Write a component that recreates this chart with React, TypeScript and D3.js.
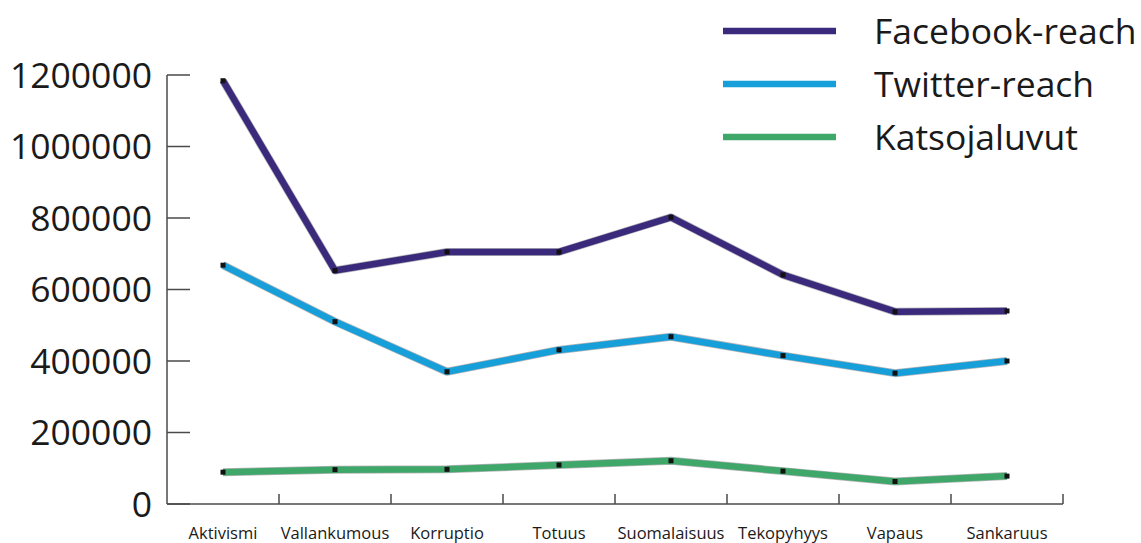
import * as d3 from 'd3';

// categories on the x axis
const categories = [
  'Aktivismi',
  'Vallankumous',
  'Korruptio',
  'Totuus',
  'Suomalaisuus',
  'Tekopyhyys',
  'Vapaus',
  'Sankaruus'
];

// series values
const facebookReach = [1184000, 653000, 705000, 705000, 802000, 641000, 538000, 540000];
const twitterReach = [668000, 510000, 370000, 431000, 468000, 415000, 366000, 400000];
const katsojaluvut = [89000, 96000, 97000, 109000, 121000, 92000, 63000, 78000];

const yTicks = [0, 200000, 400000, 600000, 800000, 1000000, 1200000];

const seriesNames = ['Facebook-reach', 'Twitter-reach', 'Katsojaluvut'];
const seriesColors = ['#3b2a7b', '#169fd8', '#3fa769'];

const W = 1141;
const H = 543;
const marginLeft = 167;
const marginRight = 78;
const marginTop = 75;
const marginBottom = 39;

export default function App() {
  const series = [facebookReach, twitterReach, katsojaluvut];

  const x = d3
    .scaleBand<string>()
    .domain(categories)
    .range([marginLeft, W - marginRight]);
  const y = d3
    .scaleLinear()
    .domain([0, 1200000])
    .range([H - marginBottom, marginTop]);
  const cx = (c: string) => (x(c) as number) + x.bandwidth() / 2;

  const line = d3
    .line<number>()
    .x((_, i) => cx(categories[i]))
    .y((d) => y(d));

  const axisColor = '#4a4a4a';
  const font = "'Open Sans', sans-serif";

  // legend rows
  const legendY = d3.scalePoint<string>().domain(seriesNames).range([31, 137]);

  return (
    <svg
      width={W}
      height={H}
      viewBox={`0 0 ${W} ${H}`}
      style={{ position: 'absolute', left: 0, top: 0, background: '#fff' }}
    >
      {/* y axis */}
      <line x1={marginLeft} x2={marginLeft} y1={y(1200000)} y2={y(0)} stroke={axisColor} strokeWidth={1.5} />
      {yTicks.map((t) => (
        <g key={t}>
          <line x1={marginLeft} x2={marginLeft + 23} y1={y(t)} y2={y(t)} stroke={axisColor} strokeWidth={1.5} />
          <text
            x={152}
            y={y(t)}
            dy="0.36em"
            textAnchor="end"
            fontFamily={font}
            fontSize={35.5}
            fill="#1a1a1a"
          >
            {t}
          </text>
        </g>
      ))}

      {/* x axis */}
      <line x1={marginLeft} x2={W - marginRight} y1={y(0)} y2={y(0)} stroke={axisColor} strokeWidth={1.5} />
      {categories.map((c) => (
        <g key={c}>
          <line
            x1={(x(c) as number) + x.step()}
            x2={(x(c) as number) + x.step()}
            y1={y(0)}
            y2={y(0) - 10}
            stroke={axisColor}
            strokeWidth={1.5}
          />
          <text x={cx(c)} y={539} textAnchor="middle" fontFamily={font} fontSize={16.5} fill="#1a1a1a">
            {c}
          </text>
        </g>
      ))}

      {/* lines */}
      {series.map((s, k) => (
        <g key={seriesNames[k]}>
          <path d={line(s) as string} fill="none" stroke="#2a2a3a" strokeOpacity={0.35} strokeWidth={8} strokeLinejoin="round" />
          <path d={line(s) as string} fill="none" stroke={seriesColors[k]} strokeWidth={6.5} strokeLinejoin="round" />
          {s.map((v, i) => (
            <rect key={i} x={cx(categories[i]) - 2.5} y={y(v) - 2.5} width={5} height={5} fill="#111" />
          ))}
        </g>
      ))}

      {/* legend */}
      {seriesNames.map((n, k) => (
        <g key={n}>
          <line
            x1={723}
            x2={836}
            y1={legendY(n) as number}
            y2={legendY(n) as number}
            stroke={seriesColors[k]}
            strokeWidth={6.5}
          />
          <text
            x={874}
            y={legendY(n) as number}
            dy="0.36em"
            fontFamily={font}
            fontSize={35.5}
            fill="#1a1a1a"
          >
            {n}
          </text>
        </g>
      ))}
    </svg>
  );
}
